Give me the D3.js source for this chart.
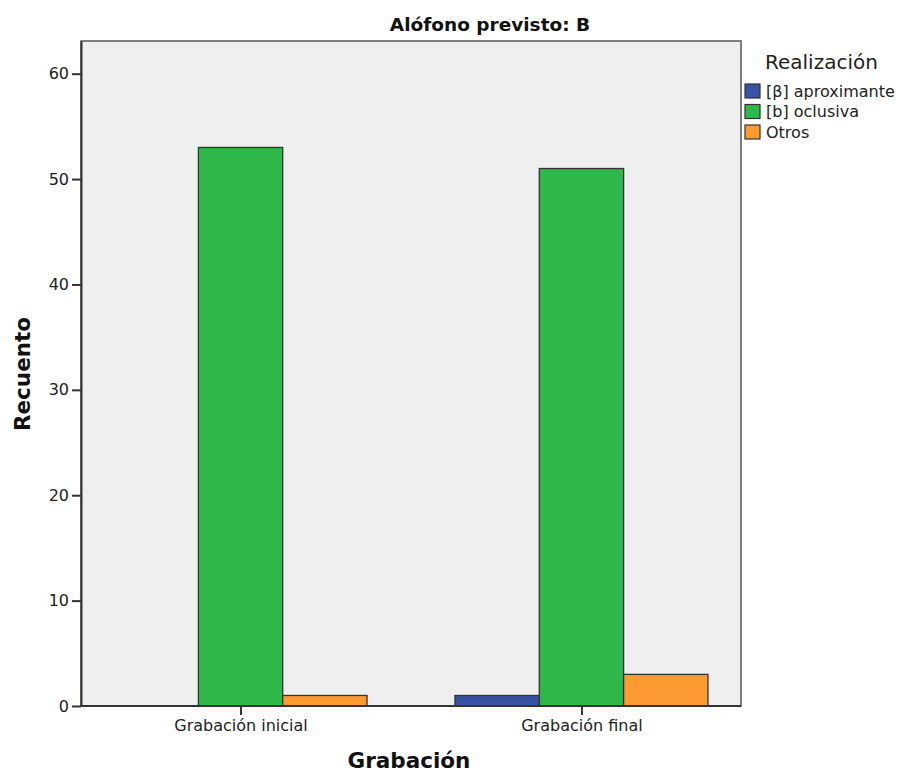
<!DOCTYPE html>
<html><head><meta charset="utf-8">
<script src="https://cdn.jsdelivr.net/npm/d3@7"></script>
<style>body{margin:0;background:#fff}</style>
</head><body>
<script>
const categories = ["Grabación inicial", "Grabación final"];
const series = ["[β] aproximante", "[b] oclusiva", "Otros"];
const values = {
  "[β] aproximante": [0, 1],
  "[b] oclusiva": [53, 51],
  "Otros": [1, 3]
};
const colors = ["#3953a4", "#2fb84a", "#fd9a32"];
const yTicks = [0, 10, 20, 30, 40, 50, 60];

const W = 899, H = 773;
const m = {left: 81, top: 41, right: 741, bottom: 706};
const font = "'DejaVu Sans', sans-serif";
const svg = d3.select("body").append("svg").attr("width", W).attr("height", H);

const y = d3.scaleLinear().domain([0, 63.1]).range([m.bottom, m.top]);
const x0 = d3.scaleBand().domain(categories).range([m.left, m.right]).paddingInner(0.258).paddingOuter(0.097);
const x1 = d3.scaleBand().domain(series).range([0, x0.bandwidth()]);

svg.append("rect").attr("x", m.left).attr("y", m.top).attr("width", m.right - m.left).attr("height", m.bottom - m.top)
  .attr("fill", "#efefef").attr("stroke", "#555").attr("stroke-width", 1.5);

const g = svg.append("g");
categories.forEach((c, i) => {
  series.forEach((s, j) => {
    const v = values[s][i];
    if (v <= 0) return;
    g.append("rect").attr("x", x0(c) + x1(s)).attr("y", y(v)).attr("width", x1.bandwidth()).attr("height", y(0) - y(v))
      .attr("fill", colors[j]).attr("stroke", "#333").attr("stroke-width", 1.3);
  });
});

// Y axis
const ya = svg.append("g").attr("transform", `translate(${m.left},0)`)
  .call(d3.axisLeft(y).tickValues(yTicks).tickSizeInner(9).tickSizeOuter(0).tickPadding(3));
ya.select(".domain").attr("stroke", "#333").attr("stroke-width", 2);
ya.selectAll(".tick line").attr("stroke", "#333").attr("stroke-width", 2);
ya.selectAll(".tick text").style("font-family", font).style("font-size", "16px").attr("fill", "#222");

// X axis
const xc = d3.scalePoint().domain(categories)
  .range([x0(categories[0]) + x0.bandwidth()/2, x0(categories[1]) + x0.bandwidth()/2]);
const xa = svg.append("g").attr("transform", `translate(0,${m.bottom})`)
  .call(d3.axisBottom(xc).tickSizeInner(9).tickSizeOuter(0).tickPadding(5));
xa.select(".domain").attr("stroke", "#333").attr("stroke-width", 2).attr("d", `M${m.left},0H${m.right}`);
xa.selectAll(".tick line").attr("stroke", "#333").attr("stroke-width", 2);
xa.selectAll(".tick text").style("font-family", font).style("font-size", "16px").attr("fill", "#222");

// Titles
svg.append("text").attr("x", 490).attr("y", 31).attr("text-anchor", "middle").style("font-family", font)
  .style("font-size", "18.5px").attr("font-weight", "bold").attr("fill", "#111").text("Alófono previsto: B");
svg.append("text").attr("transform", "translate(30,374) rotate(-90)").attr("text-anchor", "middle").style("font-family", font)
  .style("font-size", "21.5px").attr("font-weight", "bold").attr("fill", "#111").text("Recuento");
svg.append("text").attr("x", 409).attr("y", 768).attr("text-anchor", "middle").style("font-family", font)
  .style("font-size", "21.5px").attr("font-weight", "bold").attr("fill", "#111").text("Grabación");

// Legend
const lg = svg.append("g");
lg.append("text").attr("x", 765).attr("y", 69).style("font-family", font).style("font-size", "20px").attr("fill", "#222").text("Realización");
series.forEach((s, j) => {
  const yy = 84 + j * 20.5;
  lg.append("rect").attr("x", 745).attr("y", yy).attr("width", 15).attr("height", 14)
    .attr("fill", colors[j]).attr("stroke", "#333").attr("stroke-width", 1.2);
  lg.append("text").attr("x", 766).attr("y", yy + 12.5).style("font-family", font).style("font-size", "16px").attr("fill", "#222").text(s);
});
</script>
</body></html>
